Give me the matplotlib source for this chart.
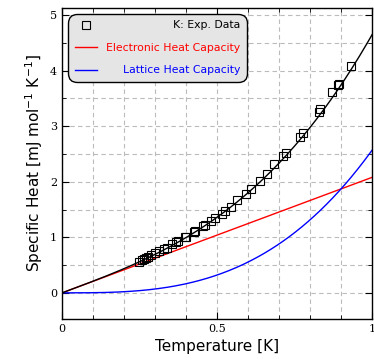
import matplotlib
matplotlib.use("Agg")
import matplotlib.pyplot as plt
from matplotlib.ticker import MultipleLocator
import numpy as np

T_data = [0.248, 0.257, 0.265, 0.270, 0.278, 0.287, 0.300, 0.311, 0.330, 0.338,
          0.354, 0.367, 0.375, 0.395, 0.400, 0.424, 0.429, 0.456, 0.461, 0.481,
          0.494, 0.515, 0.526, 0.545, 0.564, 0.593, 0.610, 0.639, 0.660, 0.685,
          0.712, 0.723, 0.768, 0.776, 0.829, 0.832, 0.870, 0.889, 0.894, 0.932]
C_data = [0.563, 0.594, 0.612, 0.630, 0.653, 0.678, 0.725, 0.761, 0.797, 0.815,
          0.876, 0.912, 0.941, 1.002, 1.014, 1.097, 1.115, 1.205, 1.223, 1.295,
          1.345, 1.415, 1.480, 1.541, 1.673, 1.781, 1.865, 2.014, 2.140, 2.315,
          2.470, 2.510, 2.800, 2.870, 3.250, 3.310, 3.620, 3.750, 3.760, 4.090]

# fit coefficients: C = gamma*T + beta*T^3
gamma = 2.08
beta = 2.57

T = np.linspace(0, 1, 300)

plt.rcParams['mathtext.fontset'] = 'dejavusans'
fig = plt.figure(figsize=(3.74, 3.6), dpi=100)
ax = fig.add_axes([0.166, 0.114, 0.829, 0.864])

ax.plot(T, gamma * T + beta * T**3, "k-", lw=1.0, zorder=3)
ax.plot(T_data, C_data, "ks", mfc="none", ms=5.5, mew=0.8, zorder=4, label="K: Exp. Data")
ax.plot(T, gamma * T, "r-", lw=1.0, label="Electronic Heat Capacity")
ax.plot(T, beta * T**3, "b-", lw=1.0, label="Lattice Heat Capacity")

ax.set_xlim(0, 1)
ax.set_ylim(-0.47, 5.13)
ax.xaxis.set_major_locator(MultipleLocator(0.5))
ax.xaxis.set_minor_locator(MultipleLocator(0.1))
ax.yaxis.set_major_locator(MultipleLocator(1))
ax.yaxis.set_minor_locator(MultipleLocator(0.5))
ax.xaxis.set_major_formatter(lambda v, p: "%g" % v)
ax.tick_params(which="both", direction="in", top=True, right=True, length=3)
ax.tick_params(which="major", length=5)
for lab in ax.get_xticklabels() + ax.get_yticklabels():
    lab.set_family("DejaVu Serif")
    lab.set_fontsize(8)
ax.grid(True, which="both", ls=(0, (4, 3)), color="#bbbbbb", lw=0.8)
for s in ax.spines.values():
    s.set_linewidth(1.0)

ax.set_xlabel("Temperature [K]", fontsize=11)
ax.set_ylabel(r"Specific Heat [mJ mol$^{-1}$ K$^{-1}$]", fontsize=11)

leg = ax.legend(loc="upper left", fontsize=7.8, fancybox=True, framealpha=1,
                facecolor="#e5e5e5", edgecolor="black", handlelength=2.1,
                borderpad=0.6, labelspacing=1.15, borderaxespad=0.55)
leg.get_frame().set_linewidth(1.0)
leg.get_frame().set_boxstyle("round,pad=0,rounding_size=0.8")
for txt, c in zip(leg.get_texts(), ["black", "red", "blue"]):
    txt.set_color(c)

# right-align legend labels while keeping handles on the left
fig.canvas.draw()
r = fig.canvas.get_renderer()
col = leg._legend_handle_box.get_children()[0]
rows = col.get_children()
W = max(row.get_bbox(r).width for row in rows)
for row in rows:
    row.mode = "expand"
    row.width = W

fig.savefig("out.png", dpi=100)
